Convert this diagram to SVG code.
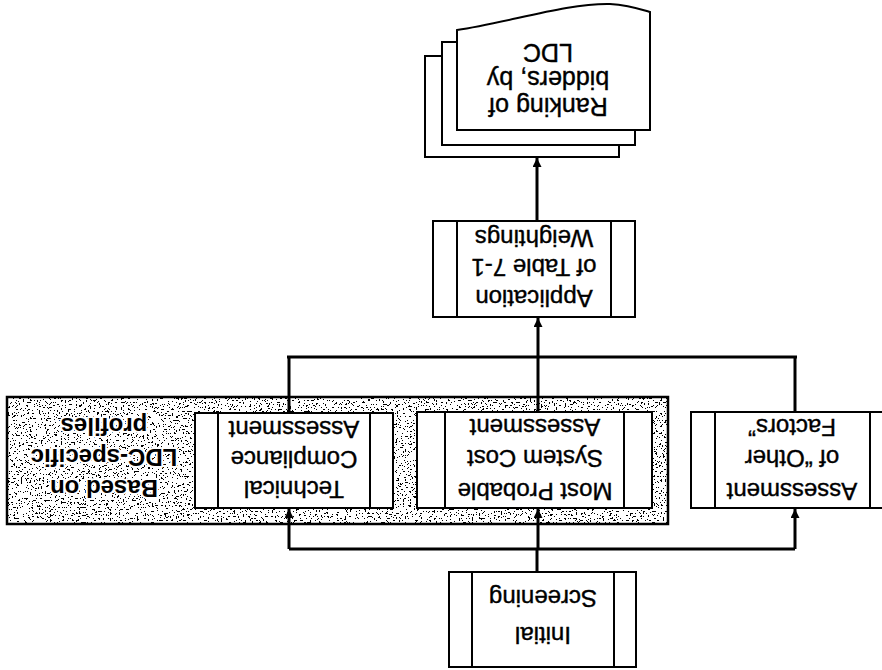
<svg xmlns="http://www.w3.org/2000/svg" width="882" height="670" viewBox="0 0 882 670">
<style>
.box{fill:#fff;stroke:#000;stroke-width:2}
.in{stroke:#000;stroke-width:2;fill:none}
.con{stroke:#000;stroke-width:3;fill:none}
.t{font-family:"Liberation Sans",Arial,sans-serif;font-size:24px;fill:#000;text-anchor:middle;stroke:#000;stroke-width:0.4}
.b{font-weight:bold;stroke:#fff;stroke-width:4;paint-order:stroke;stroke-linejoin:round}
.r{font-size:25px}
</style>
<defs>
<marker id="ah" viewBox="0 0 10 10" refX="10" refY="5" markerWidth="9" markerHeight="9" markerUnits="userSpaceOnUse" orient="auto"><path d="M0,0 L10,5 L0,10 z" fill="#000"/></marker>
<filter id="speck" x="0" y="0" width="100%" height="100%">
<feTurbulence type="fractalNoise" baseFrequency="0.55" numOctaves="3" seed="11" result="n"/>
<feColorMatrix in="n" type="matrix" values="0 0 0 0 0  0 0 0 0 0  0 0 0 0 0  -6 0 0 0 2.65" result="a"/>
<feComponentTransfer in="a" result="d"><feFuncA type="discrete" tableValues="0 1"/></feComponentTransfer>
<feComposite in="d" in2="SourceGraphic" operator="over"/>
</filter>
</defs>
<g transform="rotate(180 441 335)">
<g id="group-ldc">
<rect x="214" y="146" width="661" height="127" fill="#fff" filter="url(#speck)"/>
<rect x="214" y="146" width="661" height="127" fill="none" stroke="#000" stroke-width="2.5"/>
<text class="t b" x="778" y="190">Based on</text>
<text class="t b" x="778" y="221">LDC-specific</text>
<text class="t b" x="778" y="252">profiles</text>
</g>
<g id="connectors">
<line class="con" x1="345" y1="98" x2="345" y2="121"/>
<line class="con" x1="87" y1="121" x2="593" y2="121"/>
<line class="con" x1="593" y1="121" x2="593" y2="161" marker-end="url(#ah)"/>
<line class="con" x1="344" y1="121" x2="344" y2="161" marker-end="url(#ah)"/>
<line class="con" x1="87" y1="121" x2="87" y2="161" marker-end="url(#ah)"/>
<line class="con" x1="593" y1="257" x2="593" y2="313"/>
<line class="con" x1="344" y1="258" x2="344" y2="313"/>
<line class="con" x1="87" y1="258" x2="87" y2="313"/>
<line class="con" x1="85" y1="313" x2="595" y2="313"/>
<line class="con" x1="344" y1="313" x2="344" y2="352" marker-end="url(#ah)"/>
<line class="con" x1="345" y1="449" x2="345" y2="512" marker-end="url(#ah)"/>
</g>
<g id="initial-screening">
<rect class="box" x="246" y="3" width="187" height="95"/>
<line class="in" x1="268" y1="3" x2="268" y2="98"/>
<line class="in" x1="410" y1="3" x2="410" y2="98"/>
<text class="t" x="339" y="43">Initial</text>
<text class="t" x="339" y="80">Screening</text>
</g>
<g id="technical">
<rect class="box" x="489" y="162" width="198" height="95"/>
<line class="in" x1="512" y1="162" x2="512" y2="257"/>
<line class="in" x1="664" y1="162" x2="664" y2="257"/>
<text class="t" x="588" y="189">Technical</text>
<text class="t" x="588" y="219">Compliance</text>
<text class="t" x="588" y="249">Assessment</text>
</g>
<g id="most-probable">
<rect class="box" x="230" y="162" width="235" height="96"/>
<line class="in" x1="258" y1="162" x2="258" y2="258"/>
<line class="in" x1="437" y1="162" x2="437" y2="258"/>
<text class="t" x="347" y="187">Most Probable</text>
<text class="t" x="347" y="220">System Cost</text>
<text class="t" x="347" y="251">Assessment</text>
</g>
<g id="other-factors">
<rect class="box" x="-10" y="162" width="201" height="96"/>
<line class="in" x1="12" y1="162" x2="12" y2="258"/>
<line class="in" x1="167" y1="162" x2="167" y2="258"/>
<text class="t" x="90" y="187">Assessment</text>
<text class="t" x="90" y="220">of “Other</text>
<text class="t" x="90" y="251">Factors”</text>
</g>
<g id="application">
<rect class="box" x="247" y="353" width="202" height="96"/>
<line class="in" x1="271" y1="353" x2="271" y2="449"/>
<line class="in" x1="425" y1="353" x2="425" y2="449"/>
<text class="t" x="348" y="380">Application</text>
<text class="t" x="348" y="411">of Table 7-1</text>
<text class="t" x="348" y="440">Weightings</text>
</g>
<g id="ranking">
<rect class="box" x="263" y="513" width="194" height="101"/>
<rect class="box" x="247" y="525" width="193" height="103"/>
<path class="box" d="M232,540 H425 V640 C375,647 315,667 272,666 C254,665 242,661 232,658 Z"/>
<text class="t r" x="334" y="572">Ranking of</text>
<text class="t r" x="334" y="599">bidders, by</text>
<text class="t r" x="334" y="626">LDC</text>
</g>
</g>
</svg>
